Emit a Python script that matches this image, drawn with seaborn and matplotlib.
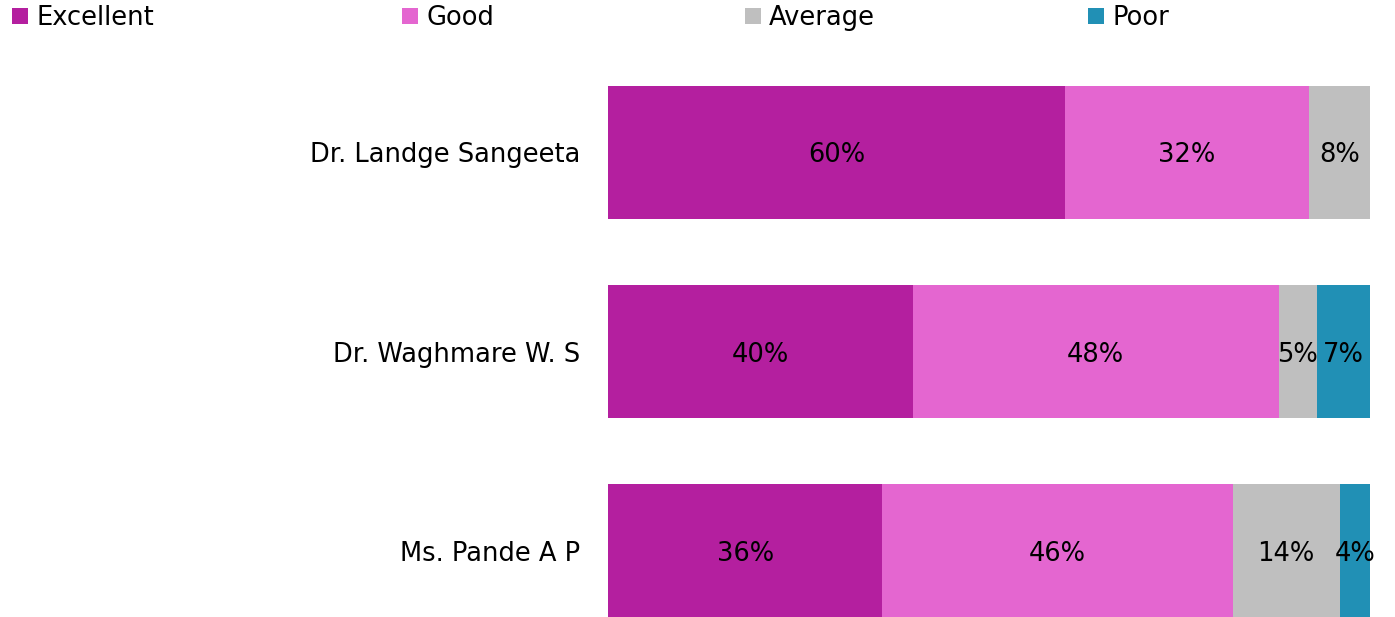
import numpy as np
import pandas as pd
import matplotlib.pyplot as plt
import seaborn as sns
from matplotlib.patches import Patch

# Data
teachers = ['Dr. Landge Sangeeta', 'Dr. Waghmare W. S', 'Ms. Pande A P']
ratings = ['Excellent', 'Good', 'Average', 'Poor']
excellent = [60, 40, 36]
good = [32, 48, 46]
average = [8, 5, 14]
poor = [0, 7, 4]
colors = ['#B41F9F', '#E466D0', '#BFBFBF', '#2190B5']

df = pd.DataFrame({'Teacher': teachers, 'Excellent': excellent, 'Good': good,
                   'Average': average, 'Poor': poor})
cum = df[ratings].cumsum(axis=1)

sns.set_style('white')
plt.rcParams['font.family'] = ['DejaVu Sans']
plt.rcParams['text.color'] = 'black'

fig = plt.figure(figsize=(13.95, 6.17), dpi=100)
ax = fig.add_axes([608 / 1395, 0, 762 / 1395, 1 - 86 / 617])

# stacked bars: draw cumulative totals from the last rating backwards
for r, c in reversed(list(zip(ratings, colors))):
    sns.barplot(x=cum[r], y=df['Teacher'], color=c, width=0.667, linewidth=0,
                saturation=1, orient='h', ax=ax)

# percentage labels in the middle of each segment
for i in range(len(teachers)):
    for r in ratings:
        v = df.loc[i, r]
        if v > 0:
            ax.text(cum.loc[i, r] - v / 2, i, f'{v}%', ha='center',
                    va='center_baseline', fontsize=18.5, color='black')

ax.set_xlim(0, 100)
ax.set_ylim(2 + 0.3335, -0.3335)
ax.set_xlabel('')
ax.set_ylabel('')
ax.set_xticks([])
ax.tick_params(axis='y', length=0, pad=20, labelsize=18.5, labelcolor='black')
for lbl in ax.get_yticklabels():
    lbl.set_verticalalignment('center_baseline')
sns.despine(ax=ax, left=True, bottom=True)

# legend entries spread across the top
legend_x = [12, 402, 745, 1088]
for r, c, lx in zip(ratings, colors, legend_x):
    fig.legend(handles=[Patch(facecolor=c, edgecolor='none')], labels=[r],
               loc='upper left', bbox_to_anchor=(lx / 1395, 1 - 5 / 617),
               frameon=False, fontsize=18.5, handlelength=0.62, handleheight=0.62,
               handletextpad=0.32, borderpad=0, borderaxespad=0)

fig.savefig('out.png', dpi=100)
